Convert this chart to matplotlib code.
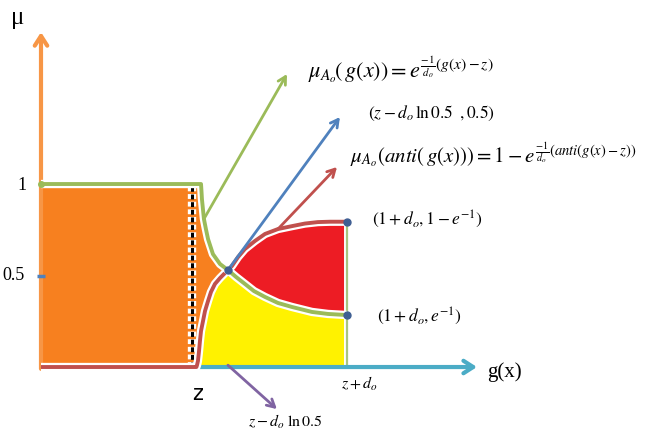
import numpy as np
import matplotlib.pyplot as plt
import matplotlib.patheffects as pe

plt.rcParams['mathtext.fontset'] = 'stix'
plt.rcParams['font.family'] = ['Liberation Serif', 'DejaVu Serif']

# membership curves (g in units where z = 1, d_o = 1)
green_g = [0.0, 1.046, 1.049, 1.052, 1.065, 1.078, 1.092, 1.124, 1.170, 1.222,
           1.275, 1.333, 1.392, 1.464, 1.549, 1.641, 1.771, 1.876, 2.0]
green_mu = [1.0, 1.0, 0.962, 0.918, 0.809, 0.754, 0.699, 0.617, 0.563, 0.530,
            0.492, 0.454, 0.415, 0.383, 0.350, 0.328, 0.301, 0.290, 0.284]
red_g = [0.0, 1.016, 1.020, 1.026, 1.033, 1.039, 1.046, 1.059, 1.072, 1.092, 1.111,
         1.137, 1.170, 1.196, 1.222, 1.248, 1.288, 1.333, 1.399, 1.464, 1.549,
         1.641, 1.725, 1.810, 1.889, 1.987]
red_mu = [0.0, 0.0, 0.011, 0.033, 0.087, 0.142, 0.197, 0.251, 0.306, 0.361, 0.410,
          0.454, 0.486, 0.508, 0.530, 0.552, 0.601, 0.645, 0.689, 0.727, 0.754,
          0.770, 0.784, 0.792, 0.794, 0.794]
cross = (1.222, 0.530)
z_pos = 1.0
zd_pos = 2.0

c_green = '#9bbb59'
c_red = '#c0504d'
c_blue = '#4f81bd'
c_teal = '#4bacc6'
c_orange = '#f79646'
c_purple = '#8064a2'
c_dot = '#3f5f93'

fig = plt.figure(figsize=(6.54, 4.35), dpi=100)
ax = fig.add_axes([0, 0, 1, 1])
ax.set_xlim(-0.268, 4.007)
ax.set_ylim(-0.366, 2.011)
ax.axis('off')

gg = np.array(green_g)
gm = np.array(green_mu)
rg = np.array(red_g)
rm = np.array(red_mu)
ig = int(np.argmin(np.abs(gg - cross[0])))
ir = int(np.argmin(np.abs(rg - cross[0])))

# fills
ax.fill([0, z_pos, z_pos, 0], [0, 0, 1, 1], color='#f7801f', lw=0, zorder=1)
sl_x = [z_pos, z_pos] + list(gg[1:ig + 1]) + list(rg[ir:0:-1])
sl_y = [0, 1] + list(gm[1:ig + 1]) + list(rm[ir:0:-1])
ax.fill(sl_x, sl_y, color='#f7801f', lw=0, zorder=1)
rx = list(rg[ir:]) + [zd_pos] + list(gg[:ig - 1:-1])
ry = list(rm[ir:]) + [gm[-1]] + list(gm[:ig - 1:-1])
ax.fill(rx, ry, color='#ed1c24', lw=0, zorder=1)
yx = list(rg[1:ir + 1]) + list(gg[ig + 1:]) + [zd_pos]
yy = list(rm[1:ir + 1]) + list(gm[ig + 1:]) + [0]
ax.fill(yx, yy, color='#fff200', lw=0, zorder=1)

halo = lambda w: [pe.Stroke(linewidth=w, foreground='white'), pe.Normal()]

# dashed line at z
ax.plot([z_pos - 0.01, z_pos - 0.01], [0, 0.99], color='black', lw=2.2,
        ls=(0, (1.6, 0.9)), zorder=3, path_effects=halo(6))
# right vertical boundary
ax.plot([zd_pos, zd_pos], [0, rm[-1]], color='#a9c47f', lw=1.6, zorder=3,
        path_effects=halo(5))

# axes
ax.annotate('', xy=(2.85, 0), xytext=(z_pos, 0),
            arrowprops=dict(arrowstyle='->,head_length=0.7,head_width=0.45',
                            color=c_teal, lw=3, shrinkA=0, shrinkB=0), zorder=4)
ax.annotate('', xy=(0.0, 1.83), xytext=(0.0, -0.01),
            arrowprops=dict(arrowstyle='->,head_length=0.7,head_width=0.45',
                            color=c_orange, lw=3, shrinkA=0, shrinkB=0), zorder=4)

# membership curves
ax.plot(rg, rm, color=c_red, lw=2.8, solid_capstyle='butt', solid_joinstyle='round',
        zorder=5, path_effects=halo(6))
ax.plot(gg, gm, color=c_green, lw=2.8, solid_capstyle='butt', solid_joinstyle='round',
        zorder=6, path_effects=halo(6))

# pointer arrows
arr = dict(arrowstyle='->,head_length=0.55,head_width=0.3', lw=2, shrinkA=0, shrinkB=0)
ax.annotate('', xy=(1.608, 1.601), xytext=(gg[4], gm[4]),
            arrowprops=dict(color=c_green, **arr), zorder=7)
ax.annotate('', xy=(1.954, 1.366), xytext=cross,
            arrowprops=dict(color=c_blue, **arr), zorder=7)
ax.annotate('', xy=(1.935, 1.093), xytext=(rg[20], rm[20]),
            arrowprops=dict(color=c_red, **arr), zorder=7)
ax.annotate('', xy=(1.542, -0.230), xytext=(cross[0], 0.01),
            arrowprops=dict(color=c_purple, **arr), zorder=7)

# points
ax.plot([cross[0], gg[-1], rg[-1] + 0.013], [cross[1], gm[-1], rm[-1]], 'o',
        color=c_dot, ms=5, zorder=8)
ax.plot([0], [1], 'o', color=c_green, ms=4, zorder=8)
ax.plot([0], [0.5], '_', color=c_blue, ms=6, mew=2.5, zorder=8)

# labels
ax.text(-0.150, 1.913, 'μ', fontsize=18, ha='center', va='center')
ax.text(-0.124, 0.995, '1', fontsize=13, ha='center', va='center')
ax.text(-0.183, 0.503, '0.5', fontsize=13, ha='center', va='center')
ax.text(1.026, -0.142, 'z', fontsize=15, ha='center', va='center', family='DejaVu Sans')
ax.text(2.085, -0.087, r'$z+d_o$', fontsize=11.5, ha='center', va='center')
ax.text(3.03, -0.02, 'g(x)', fontsize=15, ha='center', va='center')
ax.text(1.595, -0.295, r'$z-d_o\;\ln 0.5$', fontsize=11.5, ha='center', va='center')
ax.text(1.745, 1.63, r'$\mu_{A_o}\!\left(\,g(x)\right)=e^{\frac{-1}{d_o}(g(x)-z)}$',
        fontsize=16, ha='left', va='center')
ax.text(2.137, 1.393, r'$(z-d_o\,\ln 0.5\;\;,0.5)$', fontsize=12.5, ha='left', va='center')
ax.text(2.020, 1.164, r'$\mu_{A_o}(anti(\,g(x)))=1-e^{\frac{-1}{d_o}(anti(g(x)-z))}$',
        fontsize=15, ha='left', va='center')
ax.text(2.163, 0.814, r'$(1+d_o, 1-e^{-1})$', fontsize=12.5, ha='left', va='center')
ax.text(2.196, 0.284, r'$(1+d_o, e^{-1})$', fontsize=12.5, ha='left', va='center')

fig.savefig('out.png', dpi=100)
